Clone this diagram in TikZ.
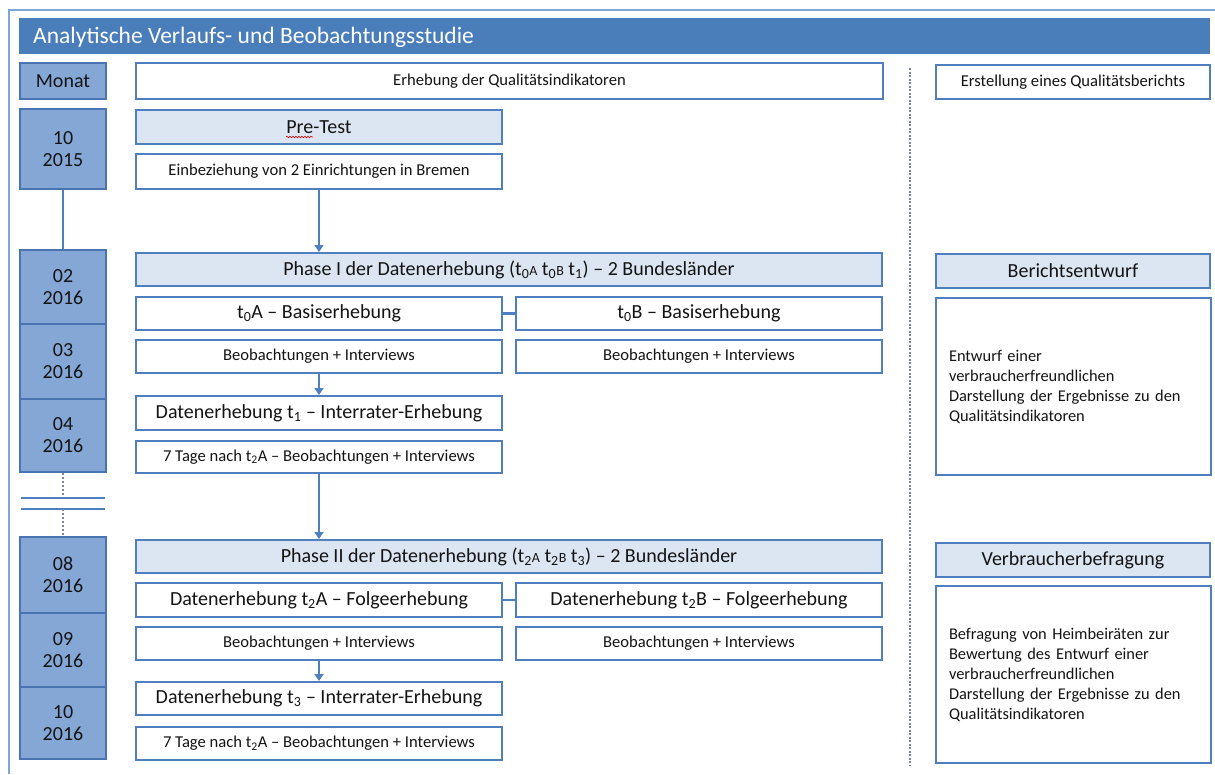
\documentclass[tikz,border=0pt]{standalone}
\usepackage{fontspec}
\setmainfont{Carlito}
\usetikzlibrary{arrows.meta,decorations.pathmorphing}
\definecolor{titlec}{HTML}{4A7EBB}
\definecolor{bordc}{HTML}{4F7FBE}
\definecolor{lightc}{HTML}{DCE6F2}
\definecolor{monthc}{HTML}{84A7D6}
\definecolor{monthb}{HTML}{4A74B0}
\definecolor{framec}{HTML}{7FA6D9}
\definecolor{dotc}{HTML}{7389AE}
\definecolor{txtc}{HTML}{141414}
\newcommand\fbig{\fontsize{20}{22}\selectfont}
\newcommand\fmid{\fontsize{16.6}{20}\selectfont}
\newcommand\fpar{\fontsize{16.4}{20}\selectfont}
\newcommand\smc[1]{{\fontsize{14}{14}\selectfont #1}}
\newcommand\bx[7]{\node[#6, minimum width={#4-#2}, minimum height={#5-#3}] (#1) at ({(#2+#4)/2},{(#3+#5)/2}) {#7};}
\begin{document}
\begin{tikzpicture}[x=1pt,y=-1pt,
  base/.style={inner sep=0pt, text=txtc, align=center},
  wbox/.style={base, draw=bordc, line width=2pt, fill=white},
  lbox/.style={wbox, fill=lightc},
  mbox/.style={base, draw=monthb, line width=2pt, fill=monthc, font=\fbig},
  conn/.style={draw=bordc, line width=2.2pt},
  arr/.style={conn, -{Triangle[width=9pt,length=7pt]}},
  mdots/.style={draw=dotc, line width=2.8pt, dash pattern=on 2pt off 2pt},
  coldots/.style={draw=dotc, line width=2.6pt, dash pattern=on 2pt off 1.5pt},
  brk/.style={draw=bordc, line width=2.2pt}]
\useasboundingbox (0,0) rectangle (1215,774);
% outer frame
\coordinate (ftl) at (9,10);
\coordinate (ftr) at (1215,10);
\coordinate (fbl) at (9,774);
\draw[framec, line width=1.5pt] (ftr) -- (ftl) -- (fbl);
% title bar
\node[fill=titlec, minimum width=1191, minimum height=36, inner sep=0pt] (title) at (614.5,36) {};
\node[anchor=west, text=white, inner sep=0pt, font=\fontsize{23.5}{26}\selectfont] (titletxt) at (33,37) {Analytische Verlaufs- und Beobachtungsstudie};
% header row
\bx{monat}{20}{63}{106}{99}{mbox}{Monat}
\bx{erheb}{136}{63}{883}{99}{wbox, font=\fmid}{Erhebung der Qualitätsindikatoren}
\bx{erst}{936}{65}{1210}{99}{wbox, font=\fmid}{Erstellung eines Qualitätsberichts}
% column divider
\coordinate (dtop) at (910,68);
\coordinate (dbot) at (910,765);
\draw[coldots] (dtop) -- (dbot);
% pre-test
\bx{m10a}{20}{109}{106}{189}{mbox}{10\\2015}
\bx{pre}{136}{110}{502}{144}{lbox, font=\fbig}{Pre-Test}
\draw[red!85!black, line width=0.6pt, decorate, decoration={snake, amplitude=0.8pt, segment length=3pt}] (286,137) -- (313,137);
\bx{einb}{136}{154}{502}{189}{wbox, font=\fmid}{Einbeziehung von 2 Einrichtungen in Bremen}
% phase I months
\bx{m02}{20}{250}{106}{324}{mbox}{02\\2016}
\bx{m03}{20}{324}{106}{399}{mbox}{03\\2016}
\bx{m04}{20}{399}{106}{472}{mbox}{04\\2016}
\draw[conn] (m10a.south) -- (m02.north);
% phase I
\bx{ph1}{136}{253}{882}{286}{lbox, font=\fbig}{Phase I der Datenerhebung (t\textsubscript{0}\smc{A} t\textsubscript{0}\smc{B} t\textsubscript{1}) – 2 Bundesländer}
\draw[arr] (einb.south) -- (einb.south |- ph1.north);
\bx{t0a}{136}{297}{502}{330}{wbox, font=\fbig}{t\textsubscript{0}A – Basiserhebung}
\bx{t0b}{516}{297}{882}{330}{wbox, font=\fbig}{t\textsubscript{0}B – Basiserhebung}
\draw[conn] (t0a.east) -- (t0b.west);
\bx{ba1}{136}{340}{502}{373}{wbox, font=\fmid}{Beobachtungen + Interviews}
\bx{bb1}{516}{340}{882}{373}{wbox, font=\fmid}{Beobachtungen + Interviews}
\bx{dt1}{136}{396}{502}{430}{wbox, font=\fbig}{Datenerhebung t\textsubscript{1} – Interrater-Erhebung}
\draw[arr] (ba1.south) -- (dt1.north);
\bx{sd1}{136}{441}{502}{473}{wbox, font=\fmid}{7 Tage nach t\textsubscript{2}A – Beobachtungen + Interviews}
% right column phase I
\bx{ber}{936}{254}{1210}{288}{lbox, font=\fbig}{Berichtsentwurf}
\node[wbox, font=\fpar, align=left, text width=249pt, inner xsep=13pt, minimum width=275, minimum height=177] (entw) at (1073.5,386.5) {Entwurf einer\\verbraucherfreundlichen\\Darstellung der Ergebnisse zu den\\Qualitätsindikatoren};
% break
\coordinate (b1l) at (21,498);
\coordinate (b1r) at (105,498);
\coordinate (b2l) at (21,509);
\coordinate (b2r) at (105,509);
\coordinate (b1m) at (63,498);
\coordinate (b2m) at (63,509);
\draw[mdots] (m04.south) -- (b1m);
\draw[brk] (b1l) -- (b1r);
\draw[brk] (b2l) -- (b2r);
% phase II months
\bx{m08}{20}{537}{106}{613}{mbox}{08\\2016}
\bx{m09}{20}{613}{106}{687}{mbox}{09\\2016}
\bx{m10b}{20}{687}{106}{759}{mbox}{10\\2016}
\draw[mdots] (b2m) -- (m08.north);
% phase II
\bx{ph2}{136}{540}{882}{573}{lbox, font=\fbig}{Phase II der Datenerhebung (t\textsubscript{2}\smc{A} t\textsubscript{2}\smc{B} t\textsubscript{3}) – 2 Bundesländer}
\draw[arr] (sd1.south) -- (sd1.south |- ph2.north);
\bx{t2a}{136}{583}{502}{617}{wbox, font=\fbig}{Datenerhebung t\textsubscript{2}A – Folgeerhebung}
\bx{t2b}{516}{583}{882}{617}{wbox, font=\fbig}{Datenerhebung t\textsubscript{2}B – Folgeerhebung}
\draw[conn] (t2a.east) -- (t2b.west);
\bx{ba2}{136}{627}{502}{660}{wbox, font=\fmid}{Beobachtungen + Interviews}
\bx{bb2}{516}{627}{882}{660}{wbox, font=\fmid}{Beobachtungen + Interviews}
\bx{dt3}{136}{682}{502}{715}{wbox, font=\fbig}{Datenerhebung t\textsubscript{3} – Interrater-Erhebung}
\draw[arr] (ba2.south) -- (dt3.north);
\bx{sd2}{136}{727}{502}{760}{wbox, font=\fmid}{7 Tage nach t\textsubscript{2}A – Beobachtungen + Interviews}
% right column phase II
\bx{verb}{936}{543}{1210}{577}{lbox, font=\fbig}{Verbraucherbefragung}
\node[wbox, font=\fpar, align=left, text width=249pt, inner xsep=13pt, minimum width=275, minimum height=177] (befr) at (1073.5,674.5) {Befragung von Heimbeiräten zur\\Bewertung des Entwurf einer\\verbraucherfreundlichen\\Darstellung der Ergebnisse zu den\\Qualitätsindikatoren};
\end{tikzpicture}
\end{document}
